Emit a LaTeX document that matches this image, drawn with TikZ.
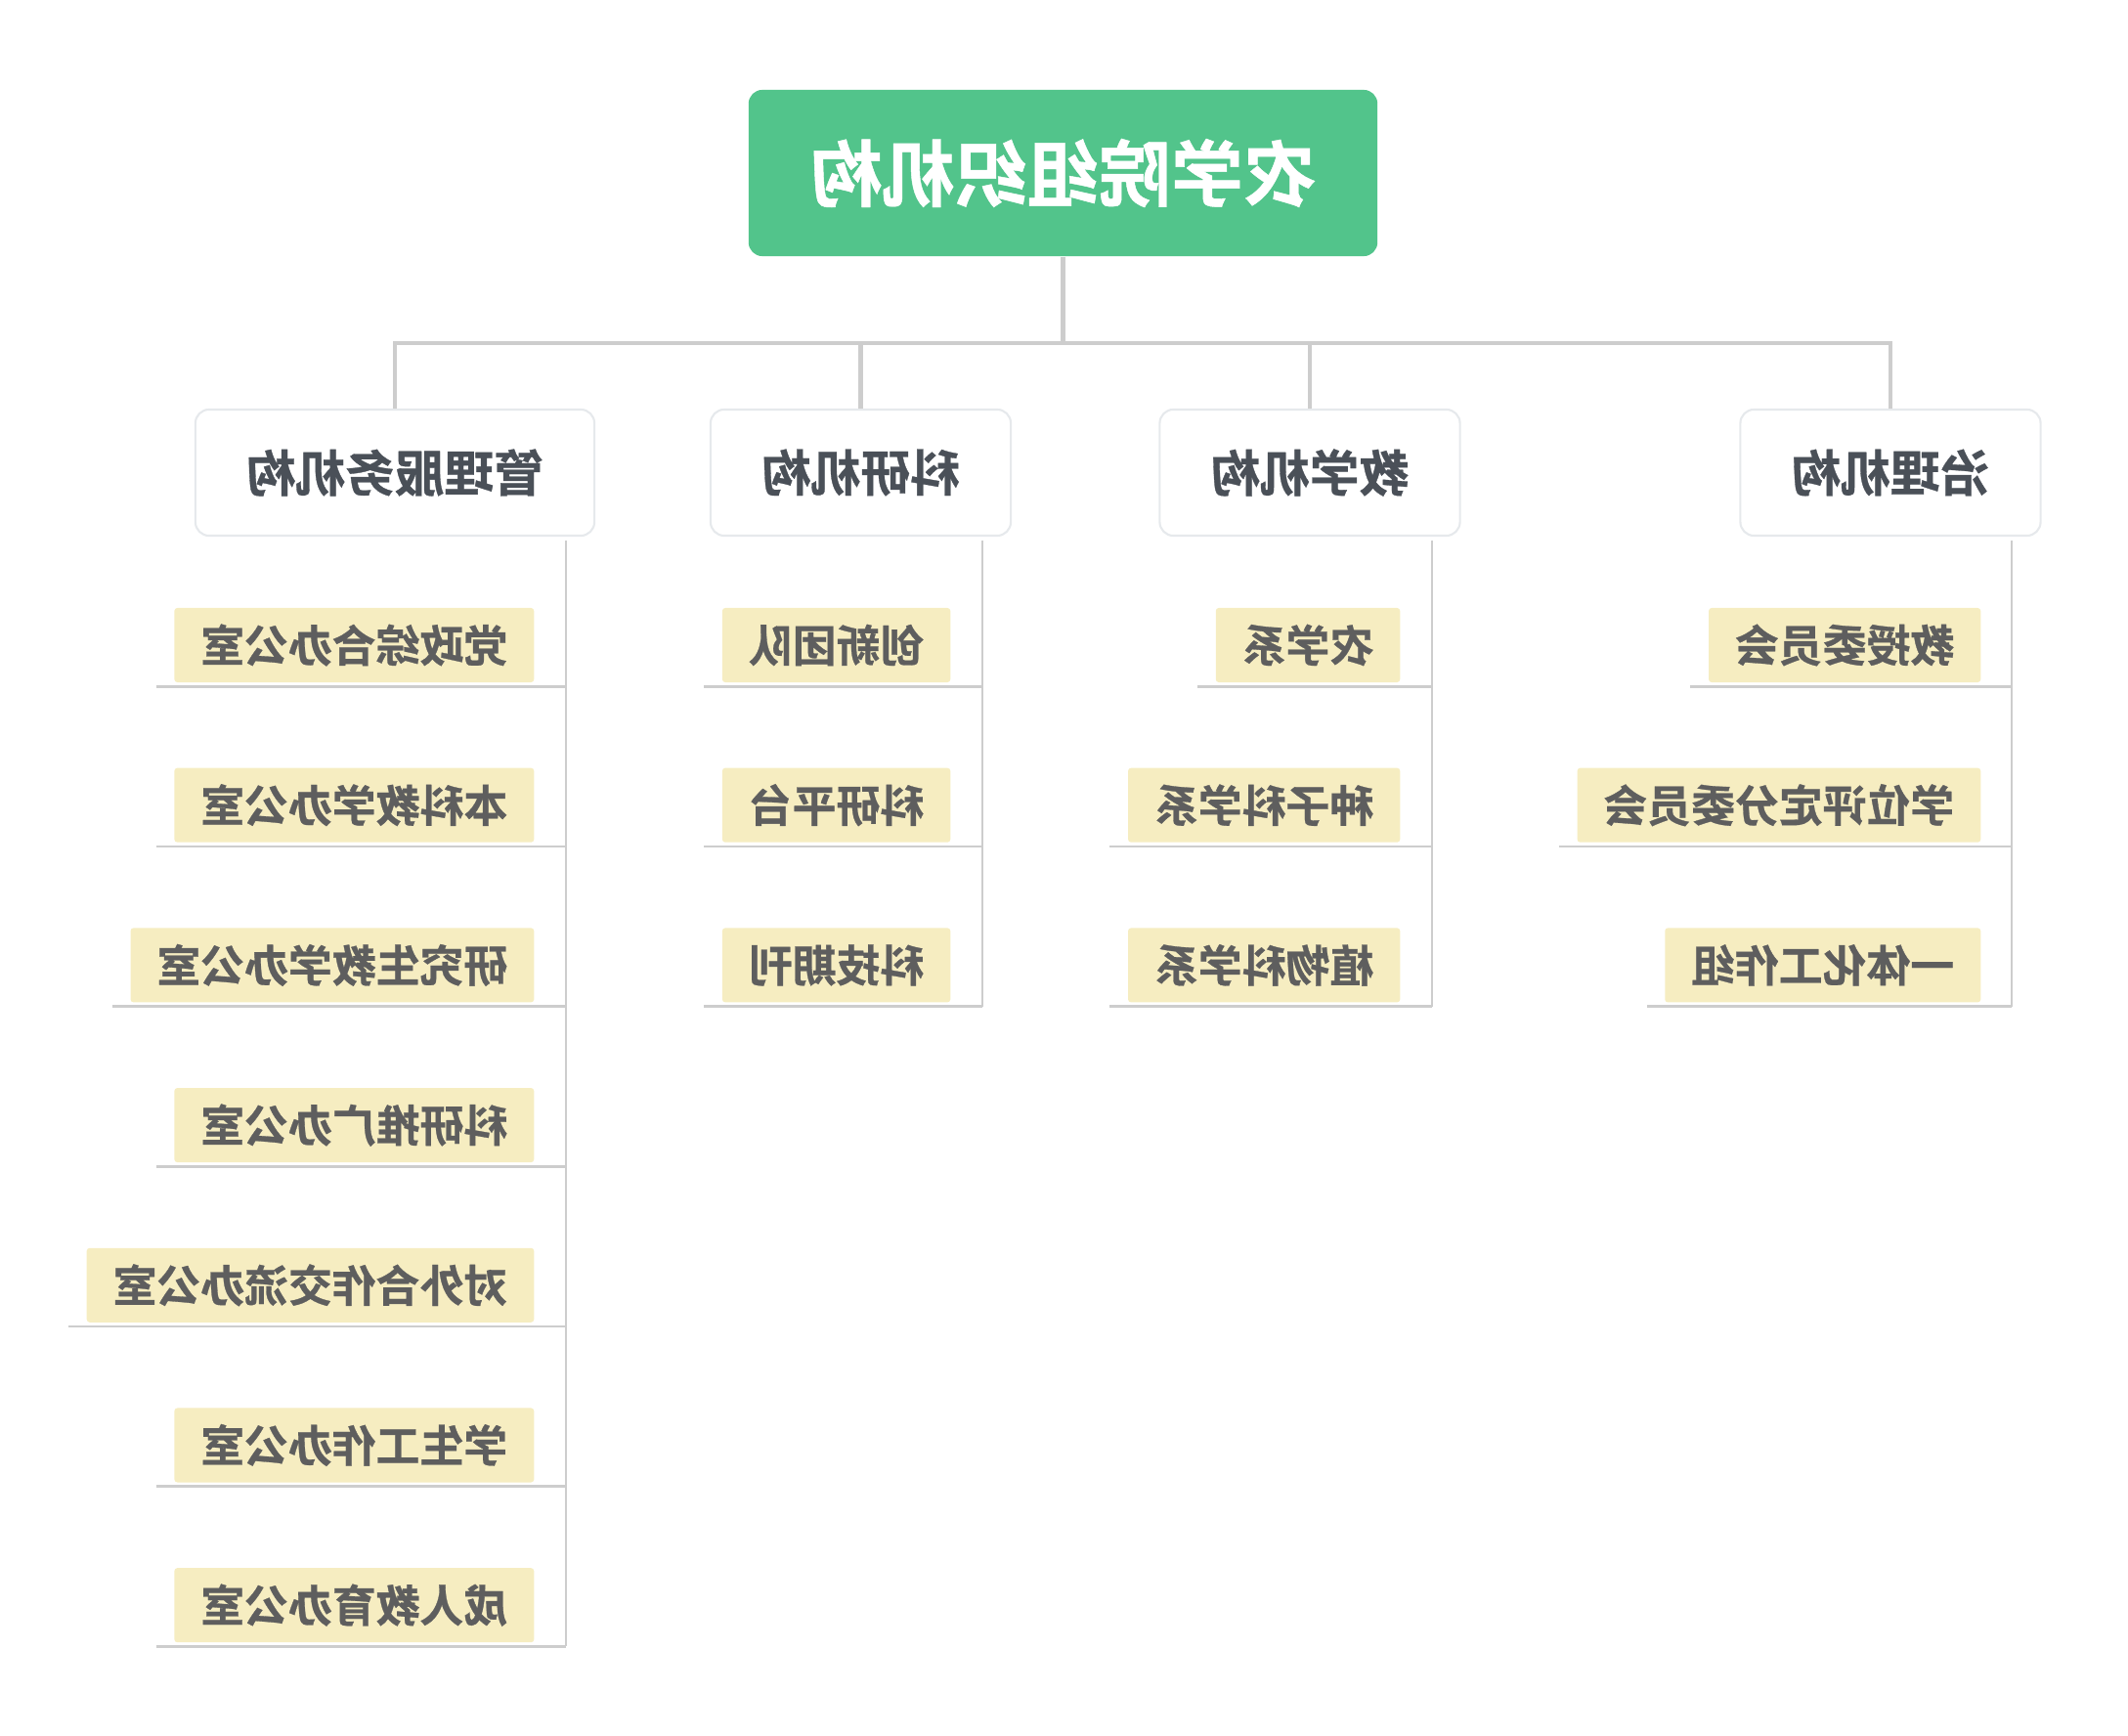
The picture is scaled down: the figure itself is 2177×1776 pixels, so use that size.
\documentclass[tikz,border=0pt]{standalone}
\usepackage{fontspec}
\usepackage{graphicx}
\setmainfont{Noto Sans CJK SC}[BoldFont={* Bold}, BoldFeatures={FakeBold=0.6}]
\definecolor{rootgreen}{HTML}{52C48B}
\definecolor{lineg}{HTML}{CDCDCD}
\definecolor{lvlborder}{HTML}{E6E9EC}
\definecolor{lvltext}{HTML}{4A5058}
\definecolor{leafy}{HTML}{F6EDC1}
\definecolor{leaftext}{HTML}{5E5E5E}
\tikzset{
  rootbox/.style={fill=rootgreen, rounded corners=0.14cm, minimum width=6.43cm, minimum height=1.70cm,
    text=white, font=\bfseries\fontsize{21pt}{24pt}\selectfont, inner sep=0pt},
  lvlbox/.style={draw=lvlborder, line width=0.6pt, fill=white, rounded corners=0.14cm, minimum width=3.07cm,
    minimum height=1.29cm, text=lvltext, font=\bfseries\fontsize{14.4pt}{17pt}\selectfont, inner sep=0pt},
  leafbox/.style={fill=leafy, rounded corners=0.03cm, minimum height=0.76cm, inner xsep=0.27cm, inner ysep=0pt,
    text=leaftext, font=\bfseries\fontsize{12.75pt}{15pt}\selectfont, anchor=east},
  conn/.style={draw=lineg, line width=1.15pt},
  under/.style={draw=lineg, line width=0.8pt},
}
\begin{document}
\begin{tikzpicture}[x=0.01cm,y=-0.01cm]
\useasboundingbox (0,0) rectangle (2177,1776);
% root
\node[rootbox] (root) at (1087.5,177) {\reflectbox{农学院组织机构}};
% level 1
\node[lvlbox, minimum width=4.08cm] (A) at (404,483.5) {\reflectbox{管理服务机构}};
\node[lvlbox] (B) at (880.5,483.5) {\reflectbox{科研机构}};
\node[lvlbox] (C) at (1340,483.5) {\reflectbox{教学机构}};
\node[lvlbox] (D) at (1934,483.5) {\reflectbox{治理机构}};
\coordinate (hub) at (1087.5,351);
\draw[conn] (root.south) -- (hub);
\draw[conn] (A.north) -- (A.north |- hub) -- (D.north |- hub) -- (D.north);
\draw[conn] (B.north) -- (B.north |- hub);
\draw[conn] (C.north) -- (C.north |- hub);
% column lines
\coordinate (Acol) at (579,553);
\coordinate (Bcol) at (1005,553);
\coordinate (Ccol) at (1465,553);
\coordinate (Dcol) at (2058,553);
% leaves
\foreach \t [count=\i] in {党政综合办公室,本科教学办公室,研究生教学办公室,科研推广办公室,对外合作交流办公室,学生工作办公室,成人教育办公室}{
  \node[leafbox] (A\i) at (547,{660+163.7*(\i-1)}) {\reflectbox{\t}};
  \coordinate (A\i u) at ([xshift=-0.18cm,yshift=-0.035cm]A\i.south west);
  \draw[under] (A\i u) -- (A\i u -| Acol);
}
\foreach \t [count=\i] in {创新团队,科研平台,科技期刊}{
  \node[leafbox] (B\i) at (973,{660+163.7*(\i-1)}) {\reflectbox{\t}};
  \coordinate (B\i u) at ([xshift=-0.18cm,yshift=-0.035cm]B\i.south west);
  \draw[under] (B\i u) -- (B\i u -| Bcol);
}
\foreach \t [count=\i] in {农学系,种子科学系,植物科学系}{
  \node[leafbox] (C\i) at (1433,{660+163.7*(\i-1)}) {\reflectbox{\t}};
  \coordinate (C\i u) at ([xshift=-0.18cm,yshift=-0.035cm]C\i.south west);
  \draw[under] (C\i u) -- (C\i u -| Ccol);
}
\foreach \t [count=\i] in {教授委员会,学位评定分委员会,一体化工作组}{
  \node[leafbox] (D\i) at (2027,{660+163.7*(\i-1)}) {\reflectbox{\t}};
  \coordinate (D\i u) at ([xshift=-0.18cm,yshift=-0.035cm]D\i.south west);
  \draw[under] (D\i u) -- (D\i u -| Dcol);
}
\draw[under] (Acol) -- (Acol |- A7u);
\draw[under] (Bcol) -- (Bcol |- B3u);
\draw[under] (Ccol) -- (Ccol |- C3u);
\draw[under] (Dcol) -- (Dcol |- D3u);
\end{tikzpicture}
\end{document}
